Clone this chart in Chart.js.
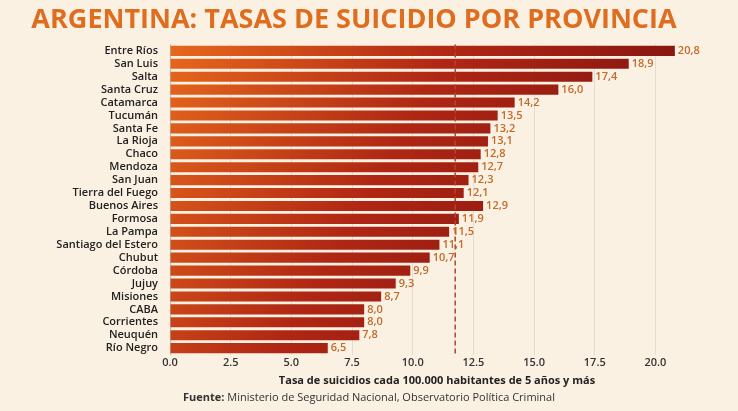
<!DOCTYPE html>
<html>
<head>
<meta charset="utf-8">
<script src="https://cdn.jsdelivr.net/npm/chart.js@4"></script>
<style>
  html, body { margin: 0; padding: 0; background: #fbf1e3; }
  #wrap { width: 738px; height: 411px; position: relative; }
</style>
</head>
<body>
<div id="wrap"><canvas id="c"></canvas></div>
<script>
// Provinces, top to bottom
const provinces = ['Entre Ríos', 'San Luis', 'Salta', 'Santa Cruz', 'Catamarca', 'Tucumán',
  'Santa Fe', 'La Rioja', 'Chaco', 'Mendoza', 'San Juan', 'Tierra del Fuego', 'Buenos Aires',
  'Formosa', 'La Pampa', 'Santiago del Estero', 'Chubut', 'Córdoba', 'Jujuy', 'Misiones',
  'CABA', 'Corrientes', 'Neuquén', 'Río Negro'];
const rates = [20.8, 18.9, 17.4, 16.0, 14.2, 13.5, 13.2, 13.1, 12.8, 12.7, 12.3, 12.1, 12.9,
  11.9, 11.5, 11.1, 10.7, 9.9, 9.3, 8.7, 8.0, 8.0, 7.8, 6.5];
const nationalAverage = 11.75;
const xTicks = [0, 2.5, 5, 7.5, 10, 12.5, 15, 17.5, 20];

const font = "'Open Sans', 'Noto Sans', sans-serif";

// value labels, dashed average line and source line
const extras = {
  id: 'extras',
  afterDatasetsDraw(chart) {
    const { ctx, chartArea, scales } = chart;
    const x = scales.x.getPixelForValue(nationalAverage);
    ctx.save();
    ctx.strokeStyle = '#b4442a';
    ctx.lineWidth = 1.5;
    ctx.setLineDash([5, 3]);
    ctx.beginPath();
    ctx.moveTo(x, chartArea.top);
    ctx.lineTo(x, chartArea.bottom);
    ctx.stroke();
    ctx.setLineDash([]);

    ctx.font = '600 11px ' + font;
    ctx.fillStyle = '#c26a28';
    ctx.textBaseline = 'middle';
    chart.getDatasetMeta(0).data.forEach((bar, i) => {
      ctx.fillText(rates[i].toFixed(1).replace('.', ','), bar.x + 3, bar.y);
    });

    ctx.fillStyle = '#333';
    ctx.font = 'bold 11px ' + font;
    const label = 'Fuente:';
    const rest = ' Ministerio de Seguridad Nacional, Observatorio Política Criminal';
    const w1 = ctx.measureText(label).width;
    ctx.font = '11px ' + font;
    const w2 = ctx.measureText(rest).width;
    const start = 369 - (w1 + w2) / 2;
    ctx.font = 'bold 11px ' + font;
    ctx.fillText(label, start, 398);
    ctx.font = '11px ' + font;
    ctx.fillText(rest, start + w1, 398);
    ctx.restore();
  }
};

function barGradient(context) {
  const area = context.chart.chartArea;
  if (!area) return '#d0501a';
  const g = context.chart.ctx.createLinearGradient(area.left, area.top, area.right, area.bottom);
  g.addColorStop(0, '#e8681c');
  g.addColorStop(0.4, '#b02614');
  g.addColorStop(1, '#660a0c');
  return g;
}

new Chart(document.getElementById('c'), {
  type: 'bar',
  data: {
    labels: provinces,
    datasets: [{
      data: rates,
      backgroundColor: barGradient,
      barPercentage: 0.78,
      categoryPercentage: 1
    }]
  },
  plugins: [extras],
  options: {
    indexAxis: 'y',
    responsive: true,
    maintainAspectRatio: false,
    animation: false,
    layout: { padding: { top: 4, right: 34, bottom: 20, left: 4 } },
    plugins: {
      legend: { display: false },
      tooltip: { enabled: false },
      title: {
        display: true,
        text: 'ARGENTINA: TASAS DE SUICIDIO POR PROVINCIA',
        color: '#df6d1f',
        font: { family: font, size: 27, weight: 'bold' },
        padding: { top: 0, bottom: 8 }
      }
    },
    scales: {
      x: {
        min: 0,
        max: 22,
        afterBuildTicks: axis => { axis.ticks = xTicks.map(v => ({ value: v })); },
        ticks: {
          callback: v => v.toFixed(1),
          color: '#333',
          font: { family: font, size: 11, weight: '600' },
          padding: 2
        },
        grid: { color: '#e2dcd2', drawTicks: false },
        border: { display: false },
        title: {
          display: true,
          text: 'Tasa de suicidios cada 100.000 habitantes de 5 años y más',
          color: '#222',
          font: { family: font, size: 11, weight: 'bold' },
          padding: { top: 2 }
        }
      },
      y: {
        afterFit: axis => { axis.width = 166; },
        ticks: {
          color: '#222',
          font: { family: font, size: 11, weight: '600' },
          padding: 4,
          autoSkip: false
        },
        grid: { display: false },
        border: { color: '#bbb' }
      }
    }
  }
});
</script>
</body>
</html>
